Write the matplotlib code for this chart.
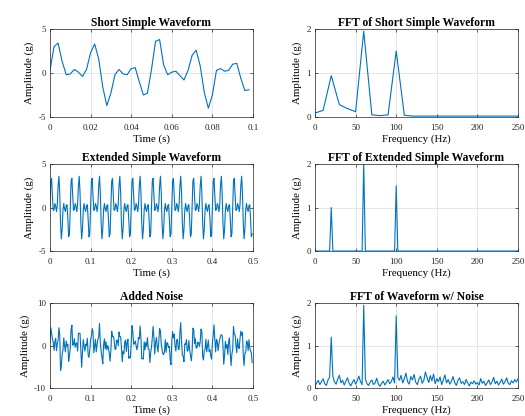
import matplotlib.pyplot as plt
import numpy as np

plt.rcParams['font.family'] = ['Liberation Serif', 'DejaVu Serif']
plt.rcParams['axes.unicode_minus'] = False

fs = 500  # sample rate (Hz)

# short simple waveform, 0 .. 0.098 s
short_wave = [0.3, 3.0, 3.4, 1.3, -0.2, -0.1, 0.4, 0.1, -0.4, 0.4,
              2.3, 3.3, 1.6, -1.6, -3.7, -2.3, -0.2, 0.4, -0.1, -0.2,
              0.5, 0.6, -1.0, -2.5, -2.3, 0.4, 3.6, 3.8, 0.9, -0.2,
              0.1, 0.2, -0.3, -0.8, 0.3, 2.0, 2.6, 0.8, -2.2, -4.0,
              -2.5, 0.3, 0.5, 0.2, 0.3, 1.0, 1.1, -0.6, -2.0, -1.9]

# FFT of short waveform, 10 Hz bins
short_freq = [0, 10, 20, 30, 40, 50, 60, 70, 80, 90, 100, 110, 120, 130,
              140, 150, 160, 170, 180, 190, 200, 210, 220, 230, 240, 250]
short_amp = [0.09, 0.15, 0.94, 0.28, 0.19, 0.12, 1.95, 0.05, 0.03, 0.05,
             1.50, 0.04, 0.02, 0.02, 0.02, 0.02, 0.02, 0.02, 0.02, 0.02,
             0.02, 0.02, 0.02, 0.02, 0.02, 0.02]

# extended simple waveform, 0 .. 0.498 s
ext_wave = [
    0, 3.04, 3.36, 1.34, -0.33, -0.22, 0.46, 0.18, -0.47, 0.31, 2.49, 3.60, 1.74, -1.74, -3.60, -2.49, -0.31, 0.47, -0.18, -0.46, 0.22, 0.33, -1.34, -3.36, -3.04,
    0, 3.04, 3.36, 1.34, -0.33, -0.22, 0.46, 0.18, -0.47, 0.31, 2.49, 3.60, 1.74, -1.74, -3.60, -2.49, -0.31, 0.47, -0.18, -0.46, 0.22, 0.33, -1.34, -3.36, -3.04,
    0, 3.04, 3.36, 1.34, -0.33, -0.22, 0.46, 0.18, -0.47, 0.31, 2.49, 3.60, 1.74, -1.74, -3.60, -2.49, -0.31, 0.47, -0.18, -0.46, 0.22, 0.33, -1.34, -3.36, -3.04,
    0, 3.04, 3.36, 1.34, -0.33, -0.22, 0.46, 0.18, -0.47, 0.31, 2.49, 3.60, 1.74, -1.74, -3.60, -2.49, -0.31, 0.47, -0.18, -0.46, 0.22, 0.33, -1.34, -3.36, -3.04,
    0, 3.04, 3.36, 1.34, -0.33, -0.22, 0.46, 0.18, -0.47, 0.31, 2.49, 3.60, 1.74, -1.74, -3.60, -2.49, -0.31, 0.47, -0.18, -0.46, 0.22, 0.33, -1.34, -3.36, -3.04,
    0, 3.04, 3.36, 1.34, -0.33, -0.22, 0.46, 0.18, -0.47, 0.31, 2.49, 3.60, 1.74, -1.74, -3.60, -2.49, -0.31, 0.47, -0.18, -0.46, 0.22, 0.33, -1.34, -3.36, -3.04,
    0, 3.04, 3.36, 1.34, -0.33, -0.22, 0.46, 0.18, -0.47, 0.31, 2.49, 3.60, 1.74, -1.74, -3.60, -2.49, -0.31, 0.47, -0.18, -0.46, 0.22, 0.33, -1.34, -3.36, -3.04,
    0, 3.04, 3.36, 1.34, -0.33, -0.22, 0.46, 0.18, -0.47, 0.31, 2.49, 3.60, 1.74, -1.74, -3.60, -2.49, -0.31, 0.47, -0.18, -0.46, 0.22, 0.33, -1.34, -3.36, -3.04,
    0, 3.04, 3.36, 1.34, -0.33, -0.22, 0.46, 0.18, -0.47, 0.31, 2.49, 3.60, 1.74, -1.74, -3.60, -2.49, -0.31, 0.47, -0.18, -0.46, 0.22, 0.33, -1.34, -3.36, -3.04,
    0, 3.04, 3.36, 1.34, -0.33, -0.22, 0.46, 0.18, -0.47, 0.31, 2.49, 3.60, 1.74, -1.74, -3.60, -2.49, -0.31, 0.47, -0.18, -0.46, 0.22, 0.33, -1.34, -3.36, -3.04,
]

# FFT of extended waveform (only the corners of the line)
ext_freq = [0, 18, 20, 22, 58, 60, 62, 98, 100, 102, 250]
ext_amp = [0, 0, 1.0, 0, 0, 2.0, 0, 0, 1.5, 0, 0]

# waveform with added noise, 0 .. 0.498 s
noise_wave = [
    0.8, 4.2, 2.9, 1.6, 0.8, -1.1, 0.9, 1.7, -1.2, 0.5, 1.2, 4.2, 2.7, -5.9, -4.8, -2.0, -1.1, 1.8, 0.0, -1.5, 1.1, -0.1, 0.3, -3.7, -2.3,
    -0.6, 3.9, 4.8, 0.1, 0.2, 1.6, -0.4, 0.5, 0.6, -1.3, 2.9, 2.9, 2.9, -1.1, -5.1, -1.6, 1.4, 0.1, -1.3, 0.3, 0.0, 1.7, -2.2, -2.8, -1.1,
    1.3, 2.2, 4.0, 3.2, -1.7, 0.0, 1.5, -1.5, 0.2, 1.5, 2.0, 5.2, 0.6, -1.4, -2.7, -4.3, 0.2, 1.6, -0.8, 0.9, -1.0, 0.0, -0.5, -1.9, -3.7,
    -1.1, 3.4, 2.1, 2.2, 1.3, -0.8, -0.9, 1.2, 1.3, 0.0, 3.2, 2.1, 2.1, -0.4, -3.8, -1.4, -1.9, 0.8, 1.3, -1.4, 0.8, 1.5, -3.0, -2.6, -2.9,
    0.5, 4.7, 3.2, 0.3, 0.5, 1.1, 0.0, -1.0, -0.1, 1.9, 1.6, 4.6, 1.9, -3.1, -3.0, -3.2, 0.9, -1.0, 0.7, -0.2, 1.9, -0.8, -0.8, -4.0, -1.7,
    -0.4, 1.8, 4.5, 1.9, -2.0, 0.7, 1.9, -0.1, -1.5, 1.0, 4.0, 3.4, 0.4, -0.9, -2.0, -2.1, -1.4, 1.4, -1.6, 0.7, 0.5, -0.5, -0.2, -3.2, -4.5,
    1.0, 3.3, 1.8, 2.7, -0.1, -1.3, 1.3, 1.5, -0.9, -0.9, 3.1, 5.4, 1.0, -2.2, -2.5, -3.8, 0.4, 0.3, 1.4, -1.3, -1.2, 1.2, -0.9, -2.2, -3.6,
    -1.5, 4.1, 3.8, 0.5, 1.6, -0.6, -0.5, 0.8, 0.7, -0.2, 0.9, 3.9, 3.2, -2.6, -3.4, -1.1, -0.9, 1.5, -1.5, 0.0, 1.3, -1.4, -1.0, -2.5, -3.2,
    0.7, 2.4, 4.9, 1.4, -1.5, 1.5, 1.0, -1.2, 0.4, 1.4, 2.2, 2.6, 2.3, -0.1, -4.4, -2.3, 1.0, -0.6, 0.2, -2.1, 1.0, 1.8, -1.8, -4.7, -2.0,
    -0.9, 4.5, 2.7, 2.5, 0.1, -1.7, 1.6, -0.4, -0.7, 1.6, 3.4, 2.4, 3.1, -2.2, -4.7, -1.8, -1.7, 1.1, 0.8, -1.2, 1.4, -0.6, -1.2, -1.8, -4.0,
]

# FFT of noisy waveform, 2 Hz bins 0 .. 250 Hz
noise_amp = [
    0.05, 0.12, 0.18, 0.08, 0.15, 0.22, 0.10, 0.06, 0.19, 0.25,
    1.20,
    0.28, 0.14, 0.09, 0.21, 0.30, 0.12, 0.18, 0.07, 0.16, 0.24,
    0.11, 0.05, 0.13, 0.20, 0.09, 0.17, 0.28, 0.15, 0.08,
    1.95,
    0.22, 0.10, 0.06, 0.14, 0.19, 0.08, 0.12, 0.23, 0.09, 0.04,
    0.11, 0.16, 0.07, 0.13, 0.20, 0.10, 0.15, 0.26, 0.12,
    1.70,
    0.25, 0.18, 0.30, 0.12, 0.22, 0.35, 0.15, 0.09, 0.27, 0.19,
    0.32, 0.14, 0.08, 0.21, 0.28, 0.11, 0.18, 0.38, 0.24, 0.13,
    0.29, 0.17, 0.33, 0.10, 0.22, 0.15, 0.26, 0.08, 0.19, 0.31,
    0.12, 0.20, 0.09, 0.16, 0.27, 0.13, 0.06, 0.18, 0.24, 0.11,
    0.15, 0.08, 0.20, 0.12, 0.05, 0.14, 0.10, 0.17, 0.09, 0.13,
    0.07, 0.22, 0.11, 0.16, 0.06, 0.12, 0.19, 0.08, 0.14, 0.25,
    0.10, 0.16, 0.07, 0.13, 0.21, 0.09, 0.15, 0.24, 0.11, 0.08,
    0.17, 0.12, 0.20, 0.14, 0.22,
]

blue = '#0072BD'
edge = '#262626'


def style(ax, title, xlabel, xlim, xticks, ylim, yticks):
    ax.set_title(title, fontsize=8.4, fontweight='bold', pad=2)
    ax.set_xlabel(xlabel, fontsize=7.8, labelpad=2)
    ax.set_ylabel('Amplitude (g)', fontsize=7.8, labelpad=3)
    ax.set_xlim(xlim)
    ax.set_ylim(ylim)
    ax.set_xticks(xticks)
    ax.set_yticks(yticks)
    ax.tick_params(direction='in', length=2, width=0.5, labelsize=6.5,
                   colors=edge, top=True, right=True)
    ax.tick_params(axis='x', pad=5)
    ax.tick_params(axis='y', pad=3)
    ax.grid(True, color='#dcdcdc', linewidth=0.5)
    ax.set_axisbelow(True)
    for s in ax.spines.values():
        s.set_color(edge)
        s.set_linewidth(0.5)


fig = plt.figure(figsize=(5.25, 4.16), dpi=100)
lefts = [0.0952, 0.6]
bottoms = [0.7188, 0.3966, 0.0673]
heights = [0.2115, 0.209, 0.204]
w = 0.3867
axs = [[fig.add_axes([l, b, w, h]) for l in lefts] for b, h in zip(bottoms, heights)]

t_short = np.arange(len(short_wave)) / fs
t_long = np.arange(len(ext_wave)) / fs
f_noise = np.arange(len(noise_amp)) * 2

ax = axs[0][0]
ax.plot(t_short, short_wave, color=blue, lw=0.8)
style(ax, 'Short Simple Waveform', 'Time (s)', (0, 0.1),
      [0, 0.02, 0.04, 0.06, 0.08, 0.1], (-5, 5), [-5, 0, 5])
ax.set_xticklabels(['0', '0.02', '0.04', '0.06', '0.08', '0.1'])

ax = axs[0][1]
ax.plot(short_freq, short_amp, color=blue, lw=0.8)
style(ax, 'FFT of Short Simple Waveform', 'Frequency (Hz)', (0, 250),
      [0, 50, 100, 150, 200, 250], (0, 2), [0, 1, 2])

ax = axs[1][0]
ax.plot(t_long, ext_wave, color=blue, lw=0.8)
style(ax, 'Extended Simple Waveform', 'Time (s)', (0, 0.5),
      [0, 0.1, 0.2, 0.3, 0.4, 0.5], (-5, 5), [-5, 0, 5])
ax.set_xticklabels(['0', '0.1', '0.2', '0.3', '0.4', '0.5'])

ax = axs[1][1]
ax.plot(ext_freq, ext_amp, color=blue, lw=0.8)
style(ax, 'FFT of Extended Simple Waveform', 'Frequency (Hz)', (0, 250),
      [0, 50, 100, 150, 200, 250], (0, 2), [0, 1, 2])

ax = axs[2][0]
ax.plot(t_long, noise_wave, color=blue, lw=0.8)
style(ax, 'Added Noise', 'Time (s)', (0, 0.5),
      [0, 0.1, 0.2, 0.3, 0.4, 0.5], (-10, 10), [-10, 0, 10])
ax.set_xticklabels(['0', '0.1', '0.2', '0.3', '0.4', '0.5'])

ax = axs[2][1]
ax.plot(f_noise, noise_amp, color=blue, lw=0.8)
style(ax, 'FFT of Waveform w/ Noise', 'Frequency (Hz)', (0, 250),
      [0, 50, 100, 150, 200, 250], (0, 2), [0, 1, 2])

fig.savefig('out.png', dpi=100)
